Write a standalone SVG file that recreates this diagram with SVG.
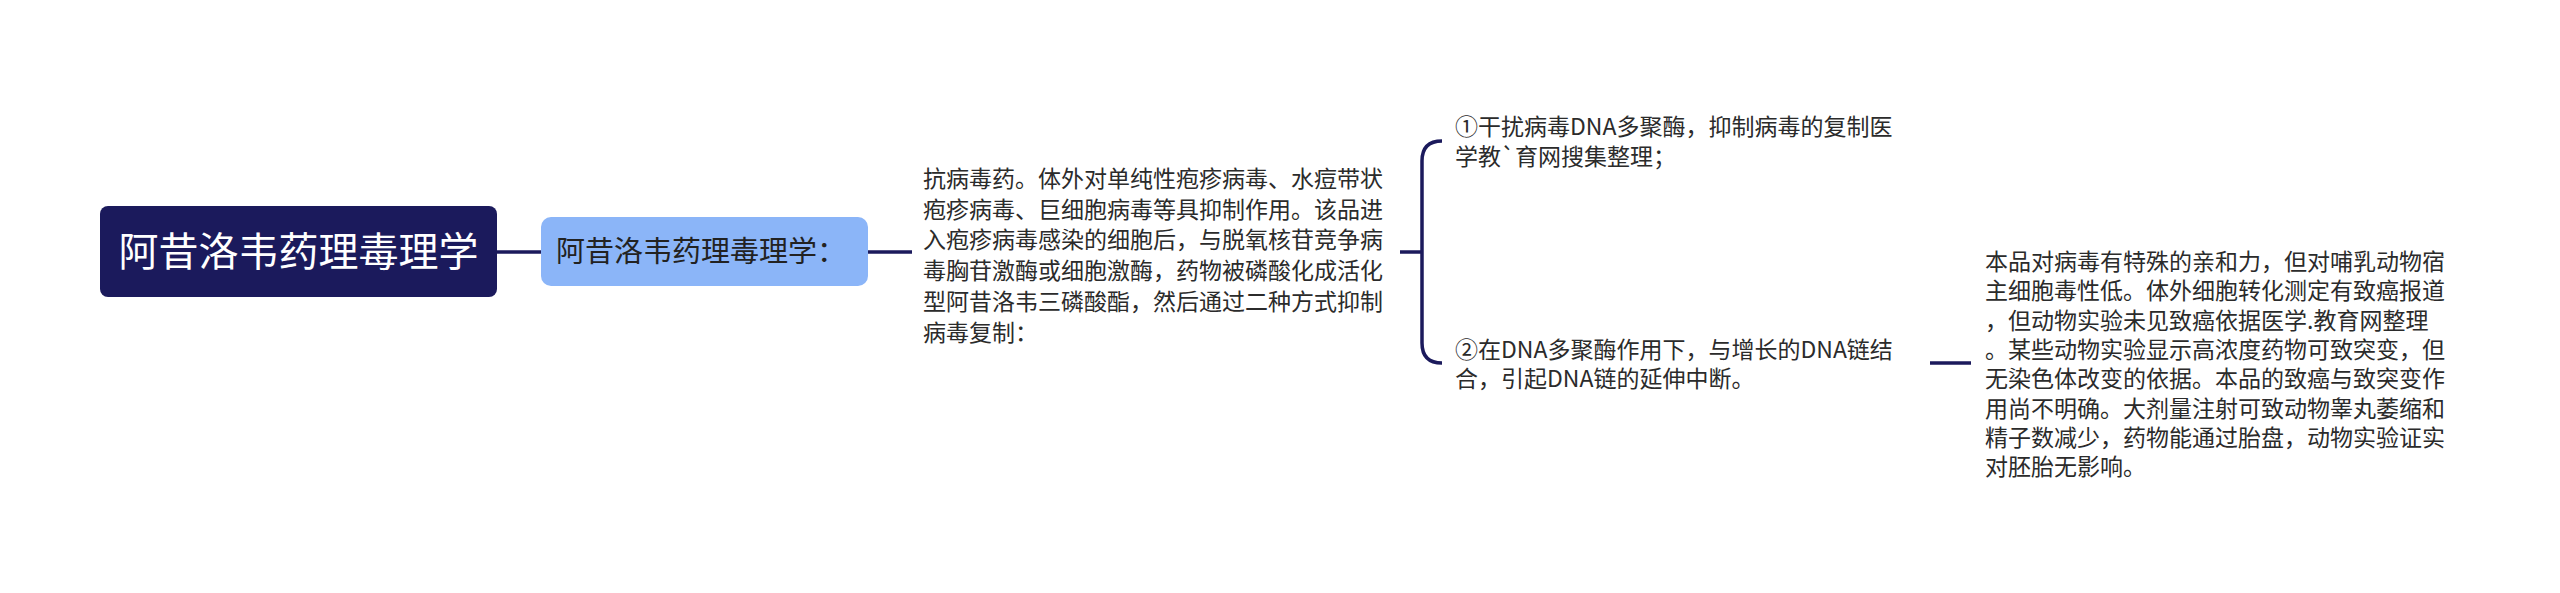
<svg xmlns="http://www.w3.org/2000/svg" width="2560" height="593" viewBox="0 0 2560 593">
<style>
  text { font-family: "Noto Sans CJK SC", "Noto Sans", sans-serif; }
  .root-t { font-size: 40px; fill: #ffffff; }
  .n2-t { font-size: 29px; fill: #222222; }
  .body { font-size: 23px; fill: #2b2b2b; }
  .conn { fill: none; stroke: #1b1a5c; stroke-width: 3.5; stroke-linecap: butt; }
</style>
<rect width="2560" height="593" fill="#ffffff"/>
<g id="connectors">
  <path class="conn" d="M497,252 H541"/>
  <path class="conn" d="M868,252 H912"/>
  <path class="conn" d="M1400,252 H1422"/>
  <path class="conn" d="M1442,141 Q1422,141 1422,161 V343 Q1422,363 1442,363"/>
  <path class="conn" d="M1930,363 H1971"/>
</g>
<g id="root">
  <rect x="100" y="206" width="397" height="91" rx="8" fill="#1b1a5c"/>
  <text class="root-t" x="298.5" y="266" text-anchor="middle">阿昔洛韦药理毒理学</text>
</g>
<g id="node-main">
  <rect x="541" y="217" width="327" height="69" rx="10" fill="#8bb5f8"/>
  <text class="n2-t" x="556" y="262">阿昔洛韦药理毒理学：</text>
</g>
<g id="node-desc">
  <text class="body">
    <tspan x="923" y="187">抗病毒药。体外对单纯性疱疹病毒、水痘带状</tspan>
    <tspan x="923" y="217.7">疱疹病毒、巨细胞病毒等具抑制作用。该品进</tspan>
    <tspan x="923" y="248.4">入疱疹病毒感染的细胞后，与脱氧核苷竞争病</tspan>
    <tspan x="923" y="279.1">毒胸苷激酶或细胞激酶，药物被磷酸化成活化</tspan>
    <tspan x="923" y="309.8">型阿昔洛韦三磷酸酯，然后通过二种方式抑制</tspan>
    <tspan x="923" y="340.5">病毒复制：</tspan>
  </text>
</g>
<g id="node-way1">
  <text class="body">
    <tspan x="1455" y="135">①干扰病毒DNA多聚酶，抑制病毒的复制医</tspan>
    <tspan x="1455" y="164.5">学教`育网搜集整理；</tspan>
  </text>
</g>
<g id="node-way2">
  <text class="body">
    <tspan x="1455" y="358">②在DNA多聚酶作用下，与增长的DNA链结</tspan>
    <tspan x="1455" y="387">合，引起DNA链的延伸中断。</tspan>
  </text>
</g>
<g id="node-tox">
  <text class="body">
    <tspan x="1985" y="270">本品对病毒有特殊的亲和力，但对哺乳动物宿</tspan>
    <tspan x="1985" y="299.3">主细胞毒性低。体外细胞转化测定有致癌报道</tspan>
    <tspan x="1985" y="328.6">，但动物实验未见致癌依据医学.教育网整理</tspan>
    <tspan x="1985" y="357.9">。某些动物实验显示高浓度药物可致突变，但</tspan>
    <tspan x="1985" y="387.2">无染色体改变的依据。本品的致癌与致突变作</tspan>
    <tspan x="1985" y="416.5">用尚不明确。大剂量注射可致动物睾丸萎缩和</tspan>
    <tspan x="1985" y="445.8">精子数减少，药物能通过胎盘，动物实验证实</tspan>
    <tspan x="1985" y="475.1">对胚胎无影响。</tspan>
  </text>
</g>
</svg>
